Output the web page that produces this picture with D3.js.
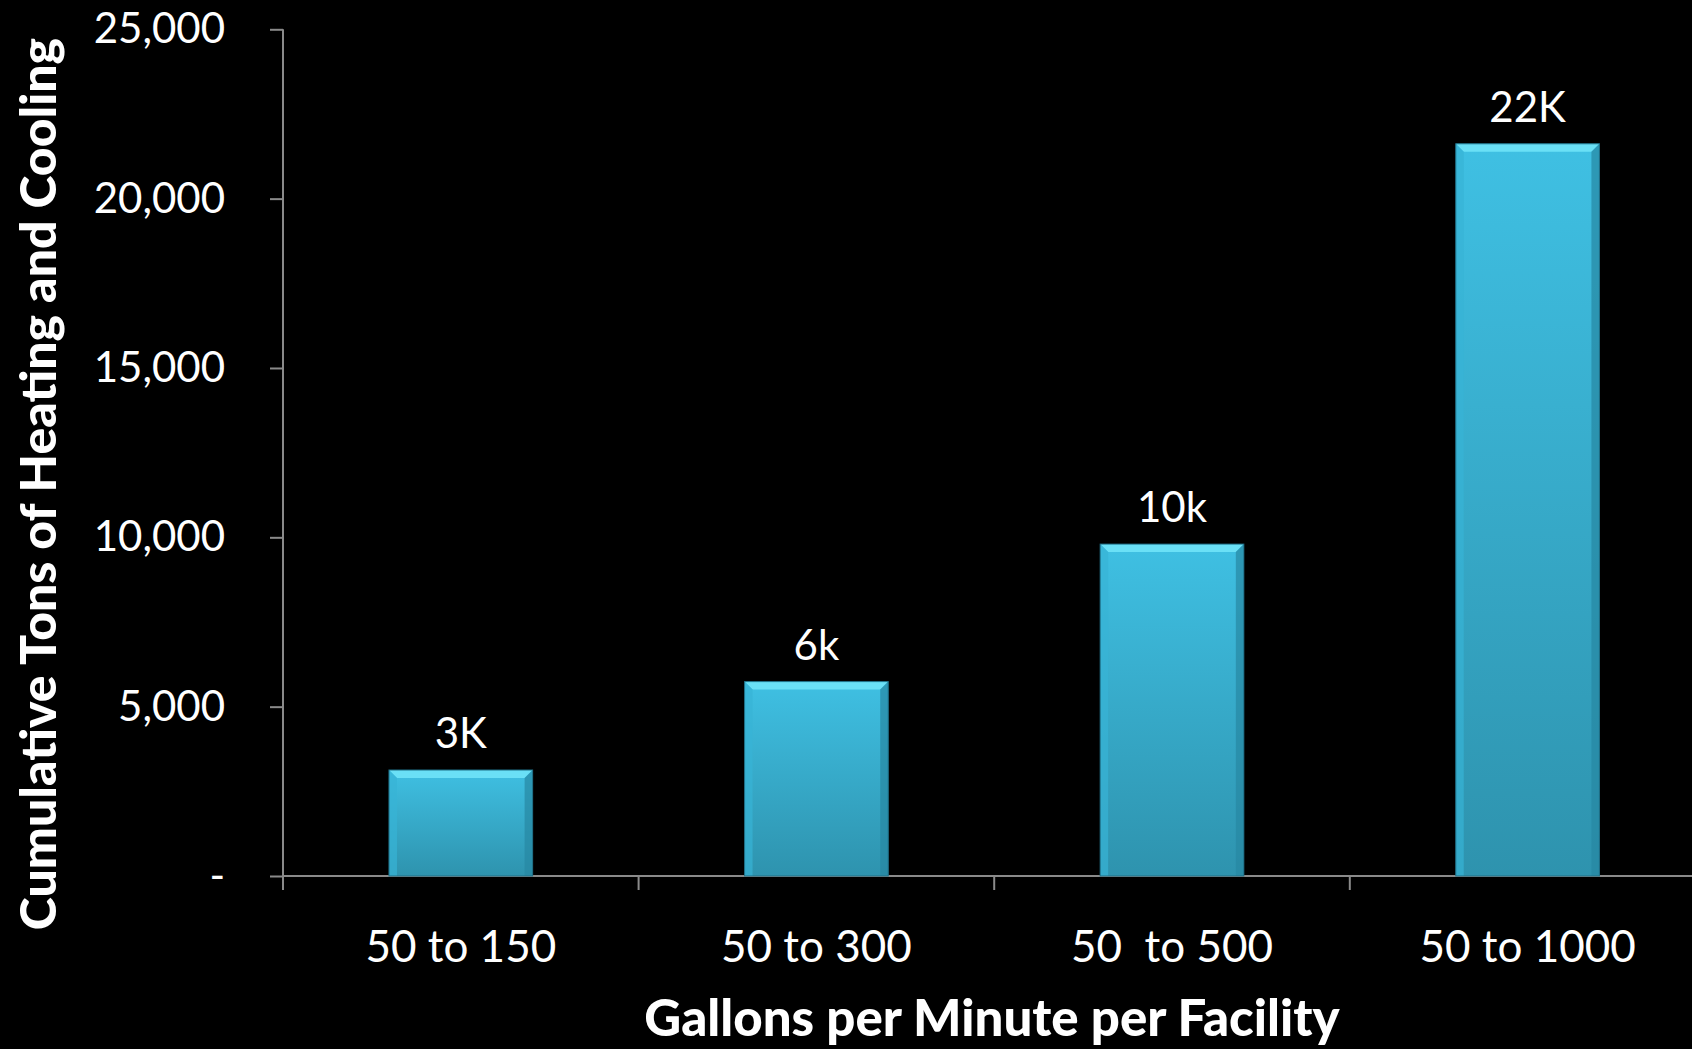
<!DOCTYPE html>
<html>
<head>
<meta charset="utf-8">
<script src="https://cdn.jsdelivr.net/npm/d3@7"></script>
<style>
html,body{margin:0;padding:0;background:#000;}
svg{display:block;}
text{font-family:Lato,"Open Sans",sans-serif;fill:#fff;}
</style>
</head>
<body>
<svg id="chart" width="1692" height="1049"></svg>
<script>
const categories = ["50 to 150", "50 to 300", "50  to 500", "50 to 1000"];
const values = [3130, 5740, 9800, 21620];
const valueLabels = ["3K", "6k", "10k", "22K"];
const yTicks = [0, 5000, 10000, 15000, 20000, 25000];
const yTickLabels = ["-", "5,000", "10,000", "15,000", "20,000", "25,000"];
const xTitle = "Gallons per Minute per Facility";
const yTitle = "Cumulative Tons of Heating and Cooling";

(function() {
const W = 1692, H = 1049;
const svg = d3.select("#chart");
const plotLeft = 283, plotBottom = 876, plotTop = 29.3, step = 355.6;

const x = d3.scaleBand().domain(categories).range([plotLeft, plotLeft + step * categories.length]).padding(0);
const y = d3.scaleLinear().domain([0, 25000]).range([plotBottom, plotTop]);
const barW = x.bandwidth() * 0.404;

const defs = svg.append("defs");
const g = defs.append("linearGradient").attr("id", "face").attr("x1", 0).attr("y1", 0).attr("x2", 0).attr("y2", 1);
g.append("stop").attr("offset", "0%").attr("stop-color", "#3fc0e3");
g.append("stop").attr("offset", "100%").attr("stop-color", "#2e93ae");

// axes
const yAxis = d3.axisLeft(y).tickValues(yTicks).tickFormat((d, i) => yTickLabels[i]).tickSize(13).tickPadding(45);
const yG = svg.append("g").attr("transform", `translate(${plotLeft},0)`).call(yAxis);
yG.select(".domain").remove();
yG.selectAll(".tick line").attr("stroke", "#8a8a8a").attr("stroke-width", 2);
yG.append("line").attr("x1", 0).attr("x2", 0).attr("y1", plotTop).attr("y2", plotBottom + 14).attr("stroke", "#8a8a8a").attr("stroke-width", 2);
yG.selectAll(".tick text").attr("fill", "#fff").style("font-size", "42px").style("font-family", "Lato").attr("dy", "0.32em").attr("x", -58);

const xAxis = d3.axisBottom(x).tickSize(0).tickPadding(0);
const xG = svg.append("g").attr("transform", `translate(0,${plotBottom})`).call(xAxis);
xG.select(".domain").remove();
xG.append("line").attr("x1", plotLeft).attr("x2", W).attr("y1", 0).attr("y2", 0).attr("stroke", "#8a8a8a").attr("stroke-width", 2);
xG.selectAll(".sep").data(categories).enter().append("line").attr("class", "sep")
  .attr("x1", d => x(d)).attr("x2", d => x(d)).attr("y1", 0).attr("y2", 14)
  .attr("stroke", "#8a8a8a").attr("stroke-width", 2);
xG.selectAll(".tick text").attr("fill", "#fff").style("font-size", "44px").style("font-family", "Lato")
  .style("white-space", "pre").attr("y", 86).attr("dy", 0);

// bars
const bev = 8;
const bars = svg.append("g").selectAll("g.bar").data(values).enter().append("g").attr("class", "bar");
bars.each(function(v, i) {
  const gb = d3.select(this);
  const x0 = x(categories[i]) + (x.bandwidth() - barW) / 2, x1 = x0 + barW;
  const y0 = y(v), y1 = y(0);
  gb.append("rect").attr("x", x0).attr("y", y0).attr("width", barW).attr("height", y1 - y0).attr("fill", "url(#face)");
  gb.append("path").attr("d", `M${x0},${y0}L${x1},${y0}L${x1 - bev},${y0 + bev}L${x0 + bev},${y0 + bev}Z`).attr("fill", "#6ae0f6");
  gb.append("path").attr("d", `M${x0},${y0}L${x0 + bev},${y0 + bev}L${x0 + bev},${y1}L${x0},${y1}Z`).attr("fill", "#38b3d6").attr("opacity", 0.7);
  gb.append("path").attr("d", `M${x1},${y0}L${x1 - bev},${y0 + bev}L${x1 - bev},${y1}L${x1},${y1}Z`).attr("fill", "#2687a3").attr("opacity", 0.7);
  gb.append("rect").attr("x", x0).attr("y", y0).attr("width", barW).attr("height", y1 - y0)
    .attr("fill", "none").attr("stroke", "#1f6f86").attr("stroke-width", 1);
  gb.append("text").attr("x", x(categories[i]) + x.bandwidth() / 2).attr("y", y0 - 22)
    .attr("text-anchor", "middle").style("font-size", "42px").text(valueLabels[i]);
});

// titles
svg.append("text").attr("x", 992).attr("y", 1036).attr("text-anchor", "middle")
  .style("font-size", "51px").style("font-weight", "900").text(xTitle);
svg.append("text").attr("transform", `translate(56,${(38 + 930) / 2}) rotate(-90)`).attr("text-anchor", "middle")
  .style("font-size", "50px").style("font-weight", "900").text(yTitle);
})();
</script>
</body>
</html>
